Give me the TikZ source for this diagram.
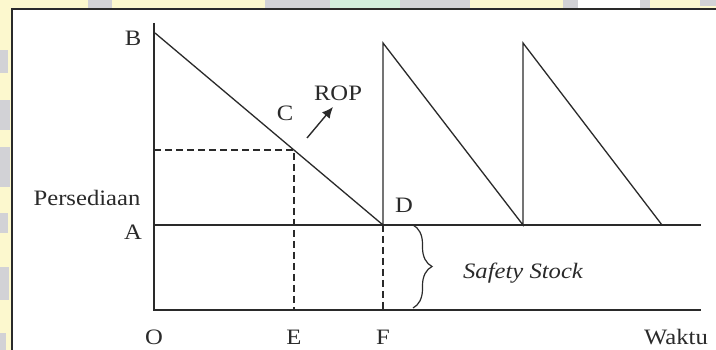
\documentclass[tikz,border=0pt]{standalone}
\usepackage{fontspec}
\setmainfont{Liberation Serif}[FakeStretch=1.12]
\usetikzlibrary{arrows.meta,decorations.pathreplacing}
\definecolor{wmyellow}{HTML}{FCF8CE}
\definecolor{wmgray}{HTML}{D2D2D6}
\definecolor{wmgreen}{HTML}{D2EEDD}
\definecolor{ink}{HTML}{2A2A2A}
\tikzset{
  axis/.style={draw=ink, line width=1.4pt},
  curve/.style={draw=ink, line width=1.3pt},
  guide/.style={draw=ink, line width=1.3pt, dash pattern=on 7pt off 4pt},
  lbl/.style={text=ink, inner sep=0pt, font=\fontsize{22}{26}\selectfont},
  ilbl/.style={lbl, font=\fontsize{22}{26}\selectfont\itshape},
}
\begin{document}
\begin{tikzpicture}[x=1pt,y=1pt]
\useasboundingbox (0,0) rectangle (716,350);
% watermark margins
\fill[wmyellow] (0,0) rectangle (716,350);
\fill[wmgray] (88,341) rectangle (112,350);
\fill[wmgray] (265,341) rectangle (470,350);
\fill[wmgreen] (330,341) rectangle (400,350);
\fill[wmgray] (563,341) rectangle (650,350);
\fill[white] (578,341) rectangle (640,350);
\fill[wmgray] (700,344) rectangle (716,350);
\fill[wmgray] (0,277) rectangle (8,300);
\fill[wmgray] (0,220) rectangle (10,250);
\fill[wmgray] (0,163) rectangle (10,203);
\fill[wmgray] (0,117) rectangle (8,137);
\fill[wmgray] (0,50) rectangle (9,83);
\fill[wmgray] (0,0) rectangle (6,17);
% white panel
\fill[white] (12,0) rectangle (716,341);
\draw[ink, line width=1.8pt] (12,0) -- (12,341) -- (716,341);

% key points
\coordinate (top) at (154,327);
\coordinate (O) at (154,40);
\coordinate (end) at (701,40);
\coordinate (Aleft) at (154,125);
\coordinate (Aright) at (701,125);
\coordinate (Bp) at (155,317);
\coordinate (Cp) at (294,200);
\coordinate (Ep) at (294,40);
\coordinate (Ly) at (154,200);
\coordinate (Dp) at (383,125);
\coordinate (Fp) at (383,40);
\coordinate (P1) at (383,307);
\coordinate (V2) at (523,125);
\coordinate (P2) at (523,307);
\coordinate (V3) at (662,125);
\coordinate (brT) at (413,125);
\coordinate (brB) at (413,42);
\coordinate (arS) at (307,212);
\coordinate (arE) at (333,243);

% axes
\draw[axis] (top) -- (O) -- (end);
\draw[axis] (Aleft) -- (Aright);
% sawtooth
\draw[curve, line join=miter] (Bp) -- (Dp) -- (P1) -- (V2) -- (P2) -- (V3);
% guides
\draw[guide] (Ly) -- (Cp) -- (Ep);
\draw[guide] (Dp) -- (Fp);
% brace
\draw[ink, line width=1.2pt, decorate, decoration={brace, amplitude=19pt}] (brT) -- (brB);
% ROP arrow
\draw[ink, line width=1.4pt, -{Latex[length=11pt,width=10pt]}] (arS) -- (arE);

% labels
\node[lbl] (lB) at (133,312) {B};
\node[lbl] (lC) at (285,237) {C};
\node[lbl] (lROP) at (338,257) {ROP};
\node[lbl] (lPers) at (87,152) {Persediaan};
\node[lbl] (lA) at (133,118) {A};
\node[lbl] (lD) at (404,145) {D};
\node[lbl] (lO) at (154,13) {O};
\node[lbl] (lE) at (294,13) {E};
\node[lbl] (lF) at (383,13) {F};
\node[lbl] (lW) at (676,13) {Waktu};
\node[ilbl] (lSS) at (523,77) {Safety Stock};
\end{tikzpicture}
\end{document}
